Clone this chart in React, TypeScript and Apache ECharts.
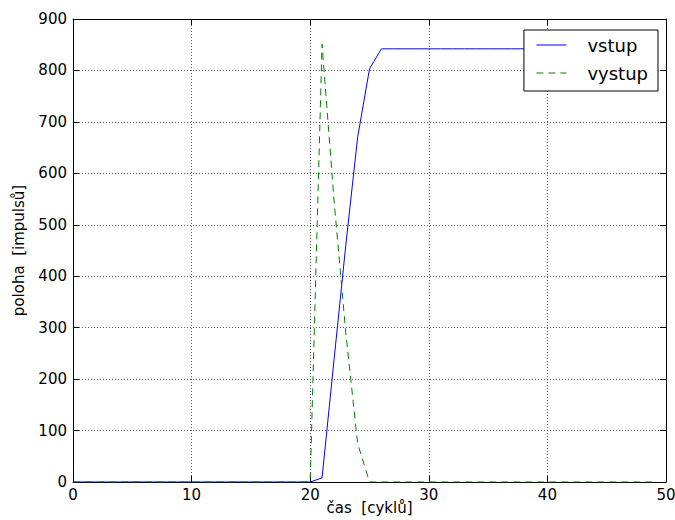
import React, { useEffect, useRef } from "react";
import * as echarts from "echarts";

const cycles = [
  0, 1, 2, 3, 4, 5, 6, 7, 8, 9, 10, 11, 12, 13, 14, 15, 16, 17, 18, 19, 20, 21, 22, 23, 24,
  25, 26, 27, 28, 29, 30, 31, 32, 33, 34, 35, 36, 37, 38, 39, 40, 41, 42, 43, 44, 45, 46, 47, 48, 49,
];
const vstup = [
  0, 0, 0, 0, 0, 0, 0, 0, 0, 0, 0, 0, 0, 0, 0, 0, 0, 0, 0, 0, 0, 8, 235, 460, 670,
  803, 842, 842, 842, 842, 842, 842, 842, 842, 842, 842, 842, 842, 842, 842, 842, 842, 842, 842, 842, 842, 842, 842, 842, 842,
];
const vystup = [
  0, 0, 0, 0, 0, 0, 0, 0, 0, 0, 0, 0, 0, 0, 0, 0, 0, 0, 0, 0, 0, 851, 550, 290, 75,
  0, 0, 0, 0, 0, 0, 0, 0, 0, 0, 0, 0, 0, 0, 0, 0, 0, 0, 0, 0, 0, 0, 0, 0, 0,
];
const xTicks = { min: 0, max: 50, interval: 10 };
const yTicks = { min: 0, max: 900, interval: 100 };

const FONT = "DejaVu Sans";

export default function App() {
  const ref = useRef<HTMLDivElement>(null);
  useEffect(() => {
    if (!ref.current) return;
    const chart = echarts.init(ref.current, undefined, { renderer: "svg" });
    const gridLine = { show: true, lineStyle: { color: "#333", width: 0.8, type: [1, 2] as any } };
    const frame = { show: true, onZero: false, lineStyle: { color: "#000", width: 1 } };
    const tick = { show: true, inside: true, length: 6, lineStyle: { color: "#000", width: 1 } };
    chart.setOption({
      animation: false,
      backgroundColor: "#fff",
      textStyle: { fontFamily: FONT },
      grid: { left: 73, right: 9, top: 19, bottom: 38, containLabel: false, outerBoundsMode: "none" },
      xAxis: [
        {
          type: "value",
          position: "bottom",
          ...xTicks,
          axisLine: frame,
          axisTick: tick,
          splitLine: gridLine,
          axisLabel: { fontSize: 15, color: "#000", margin: 5, fontFamily: FONT },
          name: "čas  [cyklů]",
          nameLocation: "middle",
          nameGap: 18,
          nameMoveOverlap: false,
          nameTextStyle: { fontSize: 15, color: "#000", fontFamily: FONT },
        },
        {
          type: "value",
          position: "top",
          ...xTicks,
          axisLine: frame,
          axisTick: tick,
          splitLine: { show: false },
          axisLabel: { show: false },
        },
      ],
      yAxis: [
        {
          type: "value",
          position: "left",
          ...yTicks,
          axisLine: frame,
          axisTick: tick,
          splitLine: gridLine,
          axisLabel: { fontSize: 15, color: "#000", margin: 6, fontFamily: FONT },
          name: "poloha  [impulsů]",
          nameLocation: "middle",
          nameGap: 47,
          nameMoveOverlap: false,
          nameTextStyle: { fontSize: 15, color: "#000", fontFamily: FONT },
        },
        {
          type: "value",
          position: "right",
          ...yTicks,
          axisLine: frame,
          axisTick: tick,
          splitLine: { show: false },
          axisLabel: { show: false },
        },
      ],
      legend: {
        orient: "vertical",
        right: 17,
        top: 30,
        padding: [6, 10, 9, 12],
        itemGap: 10,
        itemWidth: 30,
        itemHeight: 18,
        backgroundColor: "#fff",
        borderColor: "#000",
        borderWidth: 1,
        borderRadius: 0,
        itemStyle: { opacity: 0 },
        lineStyle: { width: 1 },
        textStyle: { fontSize: 18, color: "#000", fontFamily: FONT, padding: [0, 0, 0, 16] },
        data: ["vstup", "vystup"],
      },
      series: [
        {
          name: "vstup",
          type: "line",
          xAxisIndex: 0,
          yAxisIndex: 0,
          symbol: "none",
          lineStyle: { color: "#0000ff", width: 1 },
          itemStyle: { color: "#0000ff" },
          data: cycles.map((c, i) => [c, vstup[i]]),
        },
        {
          name: "vystup",
          type: "line",
          xAxisIndex: 0,
          yAxisIndex: 0,
          symbol: "none",
          lineStyle: { color: "#008000", width: 1, type: [7, 5] as any },
          itemStyle: { color: "#008000" },
          data: cycles.map((c, i) => [c, vystup[i]]),
        },
      ],
    });
    return () => chart.dispose();
  }, []);
  return (
    <div
      ref={ref}
      style={{ position: "fixed", left: 0, top: 0, width: 675, height: 520, background: "#fff" }}
    />
  );
}
